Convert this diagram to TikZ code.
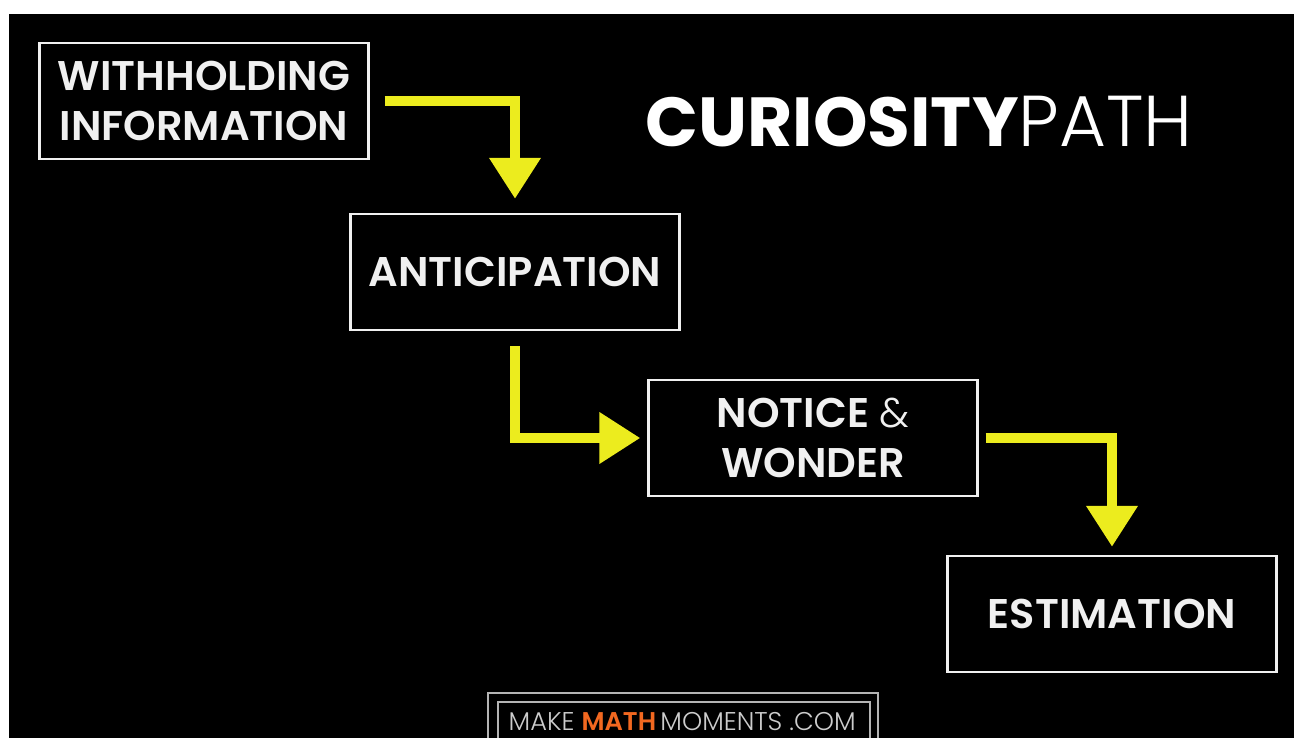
\documentclass[tikz,border=0pt]{standalone}
\usepackage{fontspec}
\setmainfont{Poppins}
\newfontfamily\stepfont{Poppins SemiBold}
\newfontfamily\thinfont{Poppins Light}
\usetikzlibrary{positioning,arrows.meta}
\definecolor{chalkyellow}{RGB}{236,236,30}
\definecolor{chalkwhite}{RGB}{240,240,240}
\definecolor{mathorange}{RGB}{242,104,32}

\begin{document}
\begin{tikzpicture}[>={Triangle[width=0.98cm,length=0.82cm]},on grid,thick,
    step node/.style={draw=chalkwhite,line width=1.3pt,minimum width=6.58cm,minimum height=2.32cm,inner sep=0pt,align=center,text=chalkwhite,font=\stepfont\fontsize{23.6}{28}\selectfont},
    flow/.style={->,draw=chalkyellow,line width=6pt},
    across down/.style={to path={-| (\tikztotarget)}},
    down across/.style={to path={|- (\tikztotarget)}}]
            % board
            \fill[white] (0,0) rectangle (25.88,-14.76);
            \useasboundingbox (0,0) rectangle (25.88,-14.76);
            \fill[black] (0.18,-0.28) rectangle (25.88,-14.76);

            \node[step node] (1) at (4.08,-2.02) {WITHHOLDING\\INFORMATION};
            \node[step node] (2) [below right=3.42cm and 6.22cm of 1] {ANTICIPATION};
            \node[step node] (3) [below right=3.32cm and 5.96cm of 2] {NOTICE {\thinfont\&}\\WONDER};
            \node[step node] (4) [below right=3.52cm and 5.98cm of 3] {ESTIMATION};

            \node[anchor=base west,inner sep=0pt,text=white,font=\fontsize{39.5}{44}\selectfont] (title) at (12.9,-2.94) {{\bfseries CURIOSITY}{\thinfont\fontsize{41}{44}\selectfont PATH}};

            \path[every edge/.style={flow}]
                ([xshift=0.3cm]1.east) edge[across down] ([yshift=0.28cm]2.north)
                ([yshift=-0.3cm]2.south) edge[down across] ([xshift=-0.14cm]3.west)
                ([xshift=0.14cm]3.east) edge[across down] ([yshift=0.16cm]4.north)
                ;

            % site tag
            \begin{scope}[draw=chalkwhite!75!black,line width=1pt]
                \draw (9.76,-15.2) |- (17.56,-13.86) -- (17.56,-15.2);
                \draw (9.96,-15.2) |- (17.4,-14.04) -- (17.4,-15.2);
            \end{scope}
            \node[anchor=base west,inner sep=0pt,text=chalkwhite!85!black,font=\thinfont\fontsize{14.6}{16}\selectfont] (site) at (10.16,-14.6) {MAKE {\stepfont\color{mathorange}MATH}\,MOMENTS .COM};
        \end{tikzpicture}
\end{document}
